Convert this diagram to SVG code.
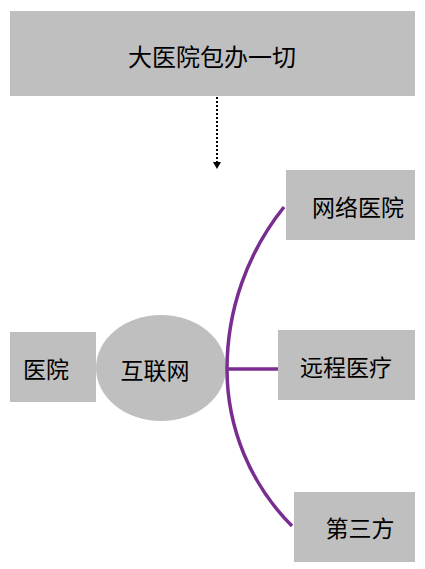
<svg xmlns="http://www.w3.org/2000/svg" width="425" height="569" viewBox="0 0 425 569">
<style>
.box{fill:#BFBFBF}
.t{font-family:"Noto Sans CJK SC","Liberation Sans",sans-serif;font-size:23px;fill:#000;text-anchor:middle;dominant-baseline:central}
.con{fill:none;stroke:#7A2D90;stroke-width:3.5}
</style>
<defs>
<marker id="ah" markerWidth="8" markerHeight="8" refX="7" refY="4" orient="auto" markerUnits="userSpaceOnUse" viewBox="0 0 8 8">
<path d="M0,0 L7,4 L0,8 Z" fill="#000"/>
</marker>
</defs>
<g id="top"><rect class="box" x="10" y="11" width="405" height="85"/><text class="t" x="212" y="55" style="font-size:24px">大医院包办一切</text></g>
<g id="wangluo"><rect class="box" x="286" y="170" width="129" height="70"/><text class="t" x="358" y="206">网络医院</text></g>
<g id="yiyuan"><rect class="box" x="10" y="332" width="86" height="70"/><text class="t" x="46" y="368">医院</text></g>
<g id="hulianwang"><ellipse class="box" cx="161" cy="368" rx="65" ry="53"/><text class="t" x="155" y="369">互联网</text></g>
<g id="yuancheng"><rect class="box" x="278" y="330" width="137" height="70"/><text class="t" x="346" y="366">远程医疗</text></g>
<g id="disanfang"><rect class="box" x="294" y="492" width="121" height="70"/><text class="t" x="360" y="527">第三方</text></g>
<g id="connectors">
<line x1="217" y1="97" x2="217" y2="169" stroke="#000" stroke-width="2" stroke-dasharray="2,2" marker-end="url(#ah)"/>
<path class="con" d="M284,207 A259,259 0 0,0 227,369 A222,222 0 0,0 292,526"/>
<line class="con" x1="227" y1="369" x2="278" y2="369"/>
</g>
</svg>
